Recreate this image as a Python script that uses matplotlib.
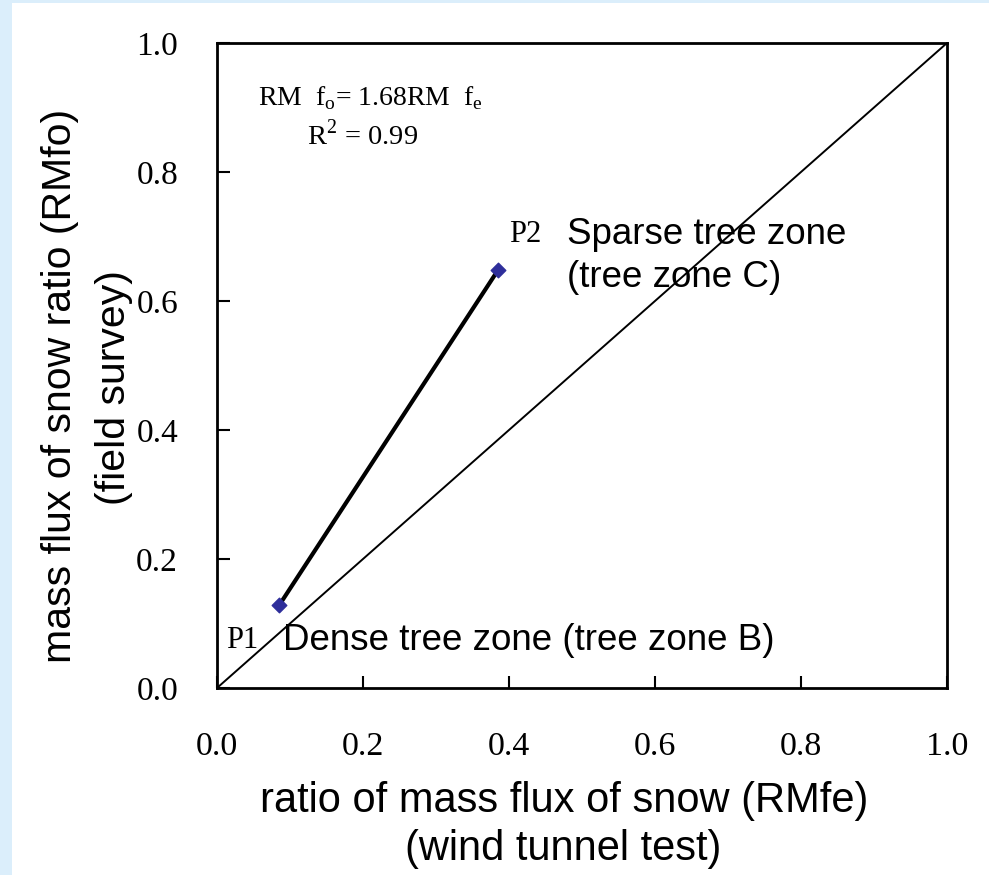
import numpy as np
import matplotlib
matplotlib.use('Agg')
import matplotlib.pyplot as plt
from matplotlib.patches import Rectangle

# data
rmfe = [0.085, 0.385]          # wind tunnel test
rmfo = [0.128, 0.648]          # field survey
point_names = ['P1', 'P2']
diag = [0.0, 1.0]
ticks = [0.0, 0.2, 0.4, 0.6, 0.8, 1.0]
tick_labels = ['0.0', '0.2', '0.4', '0.6', '0.8', '1.0']

serif = 'Liberation Serif'
sans = 'Liberation Sans'

W, H = 989, 875
fig = plt.figure(figsize=(W / 100, H / 100), dpi=100, facecolor='#dbeefb')
# white slide panel behind everything
fig.patches.append(Rectangle((12 / W, 0), 1 - 12 / W, 1 - 3 / H, transform=fig.transFigure,
                             facecolor='white', edgecolor='none', zorder=-10))

ax = fig.add_axes([217 / W, 1 - 688 / H, (947 - 217) / W, (688 - 43) / H])
ax.set_facecolor('white')

ax.plot(diag, diag, color='black', linewidth=1.4, zorder=2)
ax.plot(rmfe, rmfo, color='black', linewidth=3, zorder=3)
ax.scatter(rmfe, rmfo, marker='D', s=55, color='#2e2e9a', zorder=4)

ax.set_xlim(0, 1)
ax.set_ylim(0, 1)
ax.set_xticks(ticks)
ax.set_yticks(ticks)
ax.set_xticklabels(tick_labels, fontfamily=serif, fontsize=24.5)
ax.set_yticklabels(tick_labels, fontfamily=serif, fontsize=24)
ax.tick_params(direction='in', length=9, width=1.5, top=False, right=False)
ax.tick_params(axis='x', pad=31)
ax.tick_params(axis='y', pad=28)
for s in ax.spines.values():
    s.set_linewidth(2)

# equation
ax.text(0.056, 0.915, r'RM  f$_{\mathregular{o}}$= 1.68RM  f$_{\mathregular{e}}$', fontfamily=serif,
        fontsize=20, ha='left', va='center')
ax.text(0.123, 0.857, r'R$^{\mathregular{2}}$ = 0.99', fontfamily=serif, fontsize=20.5, ha='left', va='center')

# point labels
ax.text(0.400, 0.703, point_names[1], fontfamily=serif, fontsize=22, ha='left', va='center')
ax.text(0.479, 0.703, 'Sparse tree zone', fontfamily=sans, fontsize=26.5, ha='left', va='center')
ax.text(0.479, 0.636, '(tree zone C)', fontfamily=sans, fontsize=26.5, ha='left', va='center')
ax.text(0.013, 0.074, point_names[0], fontfamily=serif, fontsize=22, ha='left', va='center')
ax.text(0.091, 0.074, 'Dense tree zone (tree zone B)', fontfamily=sans, fontsize=26.5, ha='left', va='center')

# axis titles
fig.text(564 / W, 1 - 801 / H, 'ratio of mass flux of snow (RMfe)', fontfamily=sans, fontsize=30,
         ha='center', va='center')
fig.text(563 / W, 1 - 849 / H, '(wind tunnel test)', fontfamily=sans, fontsize=30,
         ha='center', va='center')
fig.text(60 / W, 1 - 386 / H, 'mass flux of snow ratio (RMfo)', fontfamily=sans, fontsize=29.5,
         ha='center', va='center', rotation=90)
fig.text(114 / W, 1 - 388 / H, '(field survey)', fontfamily=sans, fontsize=29.5,
         ha='center', va='center', rotation=90)

plt.savefig('out.png', dpi=100, facecolor=fig.get_facecolor())
